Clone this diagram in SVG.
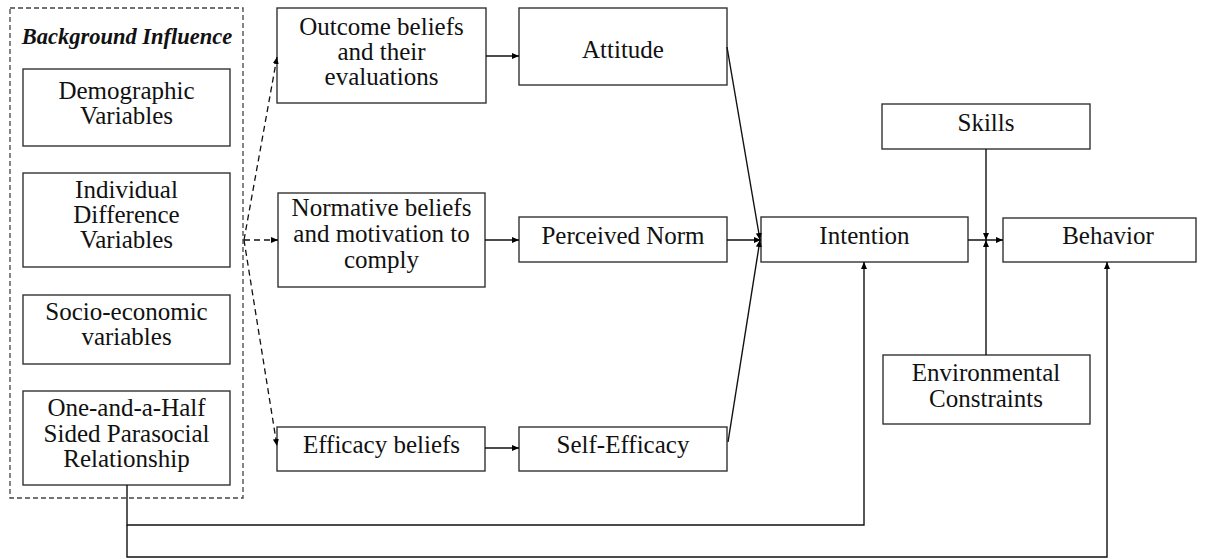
<svg xmlns="http://www.w3.org/2000/svg" width="1207" height="559" viewBox="0 0 1207 559">
<defs>
<marker id="ah" markerUnits="userSpaceOnUse" markerWidth="8" markerHeight="6" refX="7" refY="3" orient="auto">
<path d="M0,0 L7,3 L0,6 z" fill="#000"/>
</marker>
<style>
.box{fill:#fff;stroke:#333;stroke-width:1.4}
.t{font-family:"Liberation Serif","Times New Roman",serif;font-size:25px;fill:#111;text-anchor:middle}
.bi{font-family:"Liberation Serif","Times New Roman",serif;font-size:22.5px;font-weight:bold;font-style:italic;fill:#111;text-anchor:middle}
.ln{fill:none;stroke:#111;stroke-width:1.4}
.dl{fill:none;stroke:#111;stroke-width:1.3;stroke-dasharray:6 4}
.dbox{fill:none;stroke:#444;stroke-width:1.3;stroke-dasharray:5 3}
</style>
</defs>
<rect width="1207" height="559" fill="#fff"/>

<g id="background">
<rect class="dbox" x="10" y="8" width="233" height="490"/>
<text class="bi" x="127" y="44">Background Influence</text>
</g>
<g id="demographic">
<rect class="box" x="23" y="69" width="207" height="77"/>
<text class="t" x="126.5" y="99">Demographic</text>
<text class="t" x="126.5" y="124">Variables</text>
</g>
<g id="individual">
<rect class="box" x="23" y="173" width="207" height="94"/>
<text class="t" x="126.5" y="198">Individual</text>
<text class="t" x="126.5" y="223">Difference</text>
<text class="t" x="126.5" y="248">Variables</text>
</g>
<g id="socio">
<rect class="box" x="23" y="295" width="207" height="69"/>
<text class="t" x="126.5" y="320">Socio-economic</text>
<text class="t" x="126.5" y="345">variables</text>
</g>
<g id="parasocial">
<rect class="box" x="23" y="391" width="207" height="94"/>
<text class="t" x="126.5" y="416">One-and-a-Half</text>
<text class="t" x="126.5" y="442">Sided Parasocial</text>
<text class="t" x="126.5" y="467">Relationship</text>
</g>

<g id="outcome">
<rect class="box" x="277" y="8" width="209" height="95"/>
<text class="t" x="381.5" y="35">Outcome beliefs</text>
<text class="t" x="381.5" y="60">and their</text>
<text class="t" x="381.5" y="85">evaluations</text>
</g>
<g id="normative">
<rect class="box" x="278" y="193" width="207" height="94"/>
<text class="t" x="381.5" y="216">Normative beliefs</text>
<text class="t" x="381.5" y="242">and motivation to</text>
<text class="t" x="381.5" y="268">comply</text>
</g>
<g id="efficacybeliefs">
<rect class="box" x="277" y="427" width="208" height="44"/>
<text class="t" x="381.5" y="453">Efficacy beliefs</text>
</g>

<g id="attitude">
<rect class="box" x="519" y="8" width="208" height="77"/>
<text class="t" x="623" y="58">Attitude</text>
</g>
<g id="norm">
<rect class="box" x="519" y="217" width="208" height="45"/>
<text class="t" x="623" y="244">Perceived Norm</text>
</g>
<g id="selfefficacy">
<rect class="box" x="519" y="427" width="208" height="44"/>
<text class="t" x="623" y="453">Self-Efficacy</text>
</g>

<g id="intention">
<rect class="box" x="761" y="217" width="207" height="45"/>
<text class="t" x="864.5" y="244">Intention</text>
</g>
<g id="skills">
<rect class="box" x="882" y="104" width="208" height="45"/>
<text class="t" x="986" y="131">Skills</text>
</g>
<g id="environment">
<rect class="box" x="883" y="355" width="207" height="69"/>
<text class="t" x="986" y="381">Environmental</text>
<text class="t" x="986" y="407">Constraints</text>
</g>
<g id="behavior">
<rect class="box" x="1003" y="218" width="193" height="44"/>
<text class="t" x="1108" y="244">Behavior</text>
</g>

<g id="connectors">
<line class="dl" x1="244" y1="240" x2="277" y2="57" marker-end="url(#ah)"/>
<line class="dl" x1="244" y1="240" x2="278" y2="240" marker-end="url(#ah)"/>
<line class="dl" x1="244" y1="240" x2="277" y2="446" marker-end="url(#ah)"/>
<line class="ln" x1="486" y1="56" x2="519" y2="56" marker-end="url(#ah)"/>
<line class="ln" x1="485" y1="240" x2="519" y2="240" marker-end="url(#ah)"/>
<line class="ln" x1="485" y1="448" x2="519" y2="448" marker-end="url(#ah)"/>
<line class="ln" x1="727" y1="47" x2="760" y2="240" marker-end="url(#ah)"/>
<line class="ln" x1="727" y1="240" x2="761" y2="240" marker-end="url(#ah)"/>
<line class="ln" x1="728" y1="442" x2="760" y2="240" marker-end="url(#ah)"/>
<line class="ln" x1="968" y1="240" x2="1003" y2="240" marker-end="url(#ah)"/>
<line class="ln" x1="986" y1="149" x2="986" y2="240" marker-end="url(#ah)"/>
<line class="ln" x1="986" y1="355" x2="986" y2="240" marker-end="url(#ah)"/>
<polyline class="ln" points="127,485 127,525 864,525 864,262" marker-end="url(#ah)"/>
<polyline class="ln" points="127,525 127,557 1107,557 1107,262" marker-end="url(#ah)"/>
</g>
</svg>
